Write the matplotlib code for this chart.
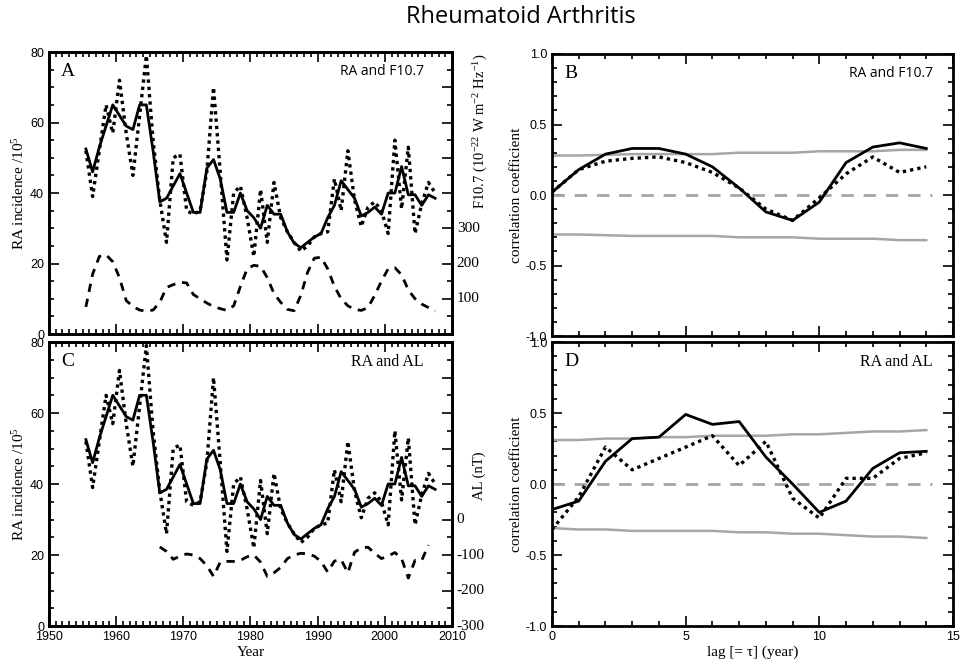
import numpy as np
import matplotlib
matplotlib.use('Agg')
import matplotlib.pyplot as plt
from matplotlib.ticker import MultipleLocator, FormatStrFormatter

plt.rcParams['font.family'] = 'Liberation Sans'
plt.rcParams['axes.unicode_minus'] = False
plt.rcParams['mathtext.fontset'] = 'custom'
plt.rcParams['mathtext.rm'] = 'Liberation Serif'
plt.rcParams['mathtext.it'] = 'Liberation Serif:italic'

SERIF = 'Liberation Serif'
TITLE_FONT = 'Open Sans'

# annual values, plotted at mid-year
years = np.arange(1955, 2008) + 0.5

# RA incidence per 10^5 (raw, dotted)
ra_raw = [52, 39, 52, 65, 57, 72, 57, 45, 62, 79,
          55, 38, 26, 50, 51, 35, 34, 35, 46, 70,
          46, 21, 40, 42, 33, 22, 41, 26, 43, 33,
          29, 26, 23.5, 25, 27.5, 28.5, 29, 44, 35, 52,
          38, 30.5, 36, 37.5, 35, 28.5, 55, 35.5, 53, 28.5,
          37, 43, 40]

# RA incidence, smoothed (solid)
ra_smooth = [52.5, 46, 53, 59, 65, 62, 59, 58, 65, 65,
             52, 37.5, 38.5, 42, 45.5, 40, 34.5, 34.5, 47, 49.5,
             44, 34.5, 34.5, 40, 35, 33, 30, 36.5, 34, 34,
             29, 25.8, 24.5, 26, 27.5, 28.5, 33, 36.5, 43.5, 41,
             38.5, 33.5, 34.5, 36, 34, 40, 40, 47.5, 39.5, 39.5,
             36.5, 39.5, 38.5]

# F10.7 solar flux (dashed, right axis of A)
f107 = [77, 170, 220, 225, 205, 160, 95, 78, 68, 65,
        68, 90, 132, 140, 147, 145, 112, 100, 88, 78,
        72, 67, 80, 135, 185, 195, 192, 160, 115, 90,
        70, 66, 110, 175, 215, 218, 185, 135, 100, 80,
        70, 67, 75, 110, 150, 185, 188, 168, 125, 100,
        85, 75, 65]

# AL index in nT (dashed, right axis of C)
al_years = np.arange(1966, 2007) + 0.5
al = [-77, -90, -112, -103, -97, -100, -110, -130, -160, -120,
      -118, -118, -115, -105, -100, -120, -160, -150, -135, -110,
      -100, -95, -97, -103, -118, -148, -117, -113, -150, -92,
      -80, -78, -95, -110, -103, -93, -110, -165, -115, -115,
      -72]

# lag correlation
lags = np.arange(0, 15)
b_solid = [0.02, 0.18, 0.29, 0.33, 0.33, 0.29, 0.20, 0.05, -0.12, -0.18, -0.05, 0.23, 0.34, 0.37, 0.33]
b_dot = [0.02, 0.18, 0.24, 0.26, 0.27, 0.23, 0.16, 0.05, -0.10, -0.18, -0.02, 0.15, 0.27, 0.16, 0.20]
b_up = [0.28, 0.28, 0.285, 0.29, 0.29, 0.29, 0.29, 0.30, 0.30, 0.30, 0.31, 0.31, 0.31, 0.32, 0.32]
b_lo = [-0.28, -0.28, -0.285, -0.29, -0.29, -0.29, -0.29, -0.30, -0.30, -0.30, -0.31, -0.31, -0.31, -0.32, -0.32]

d_solid = [-0.18, -0.12, 0.16, 0.32, 0.33, 0.49, 0.42, 0.44, 0.19, 0.0, -0.20, -0.12, 0.11, 0.22, 0.23]
d_dot = [-0.32, -0.09, 0.26, 0.10, 0.18, 0.26, 0.34, 0.13, 0.30, -0.10, -0.24, 0.04, 0.04, 0.18, 0.22]
d_up = [0.31, 0.31, 0.32, 0.32, 0.33, 0.33, 0.34, 0.34, 0.34, 0.35, 0.35, 0.36, 0.37, 0.37, 0.38]
d_lo = [-0.31, -0.32, -0.32, -0.33, -0.33, -0.33, -0.33, -0.34, -0.34, -0.35, -0.35, -0.36, -0.37, -0.37, -0.38]

f107_labels = [100, 200, 300]
al_labels = [0, -100, -200, -300]

DOT = (0, (1, 1.2))
DASH = (0, (3, 2.5))
GRAY = '#a6a6a6'


def frame(ax, right=True):
    for s in ax.spines.values():
        s.set_linewidth(2)
    ax.tick_params(which='both', direction='in', top=True, right=right,
                   width=1.2, labelsize=9)
    ax.tick_params(which='major', length=7)
    ax.tick_params(which='minor', length=3.5)


def right_axis(ax, lo, hi, labels, label, label_y):
    tw = ax.twinx()
    tw.set_ylim(lo, hi)
    for s in tw.spines.values():
        s.set_linewidth(2)
    tw.yaxis.set_major_locator(MultipleLocator(100))
    tw.yaxis.set_minor_locator(MultipleLocator(50))
    tw.tick_params(which='both', direction='in', labelright=False, width=1.2)
    tw.tick_params(which='major', length=7)
    tw.tick_params(which='minor', length=3.5)
    for v in labels:
        tw.text(1.012, v, str(v), transform=tw.get_yaxis_transform(),
                ha='left', va='center', family=SERIF, fontsize=11)
    tw.set_ylabel(label, family=SERIF, fontsize=10.5)
    tw.yaxis.set_label_coords(1.05, label_y)
    return tw


fig = plt.figure(figsize=(9.6, 6.65), dpi=100)
fig.text(0.543, 0.974, 'Rheumatoid Arthritis', ha='center', va='center',
         family=TITLE_FONT, fontsize=17)

axA = fig.add_axes([0.051, 0.4977, 0.4198, 0.4241])
axC = fig.add_axes([0.051, 0.0586, 0.4198, 0.4271])
axB = fig.add_axes([0.575, 0.4947, 0.4177, 0.4241])
axD = fig.add_axes([0.575, 0.0586, 0.4177, 0.4271])

# left panels: RA time series
for ax, letter in [(axA, 'A'), (axC, 'C')]:
    ax.plot(years, ra_raw, ls=DOT, color='k', lw=2.4)
    ax.plot(years, ra_smooth, '-', color='k', lw=2)
    ax.set_xlim(1950, 2010)
    ax.set_ylim(0, 80)
    ax.xaxis.set_major_locator(MultipleLocator(10))
    ax.xaxis.set_minor_locator(MultipleLocator(1))
    ax.yaxis.set_major_locator(MultipleLocator(20))
    ax.yaxis.set_minor_locator(MultipleLocator(5))
    frame(ax, right=False)
    ax.set_ylabel('RA incidence /10$^5$', family=SERIF, fontsize=11, labelpad=2)
    ax.text(0.03, 0.93, letter, transform=ax.transAxes, family=SERIF,
            fontsize=14, va='center')

axA.tick_params(labelbottom=False)
axA.text(0.93, 0.93, 'RA and F10.7', transform=axA.transAxes, ha='right',
         va='center', family=TITLE_FONT, fontsize=10)
twA = right_axis(axA, 0, 800, f107_labels,
                 'F10.7 (10$^{-22}$ W m$^{-2}$ Hz$^{-1}$)', 0.72)
twA.plot(years, f107, ls=DASH, color='k', lw=2)

axC.text(0.93, 0.93, 'RA and AL', transform=axC.transAxes, ha='right',
         va='center', family=SERIF, fontsize=11.5)
axC.set_xlabel('Year', family=SERIF, fontsize=11, labelpad=2)
twC = right_axis(axC, -300, 500, al_labels, 'AL (nT)', 0.53)
twC.plot(al_years, al, ls=DASH, color='k', lw=2)

# right panels: lag correlation
for ax, letter, sol, dot, up, lo, name, fam, fs in [
        (axB, 'B', b_solid, b_dot, b_up, b_lo, 'RA and F10.7', TITLE_FONT, 10),
        (axD, 'D', d_solid, d_dot, d_up, d_lo, 'RA and AL', SERIF, 11.5)]:
    ax.plot(lags, up, color=GRAY, lw=1.8)
    ax.plot(lags, lo, color=GRAY, lw=1.8)
    ax.hlines(0, lags[0], lags[-1] + 0.2, color=GRAY, lw=2, linestyles=(0, (4.5, 3.5)))
    ax.plot(lags, dot, ls=DOT, color='k', lw=2.4)
    ax.plot(lags, sol, '-', color='k', lw=2)
    ax.set_xlim(0, 15)
    ax.set_ylim(-1, 1)
    ax.xaxis.set_major_locator(MultipleLocator(5))
    ax.xaxis.set_minor_locator(MultipleLocator(1))
    ax.yaxis.set_major_locator(MultipleLocator(0.5))
    ax.yaxis.set_minor_locator(MultipleLocator(0.1))
    ax.yaxis.set_major_formatter(FormatStrFormatter('%.1f'))
    frame(ax)
    ax.set_ylabel('correlation coefficient', family=SERIF, fontsize=11, labelpad=2)
    ax.text(0.03, 0.93, letter, transform=ax.transAxes, family=SERIF,
            fontsize=14, va='center')
    ax.text(0.95, 0.93, name, transform=ax.transAxes, ha='right',
            va='center', family=fam, fontsize=fs)

axB.tick_params(labelbottom=False)
axD.set_xlabel('lag [= τ] (year)', family=SERIF, fontsize=11, labelpad=2)

fig.savefig('out.png', dpi=100)
